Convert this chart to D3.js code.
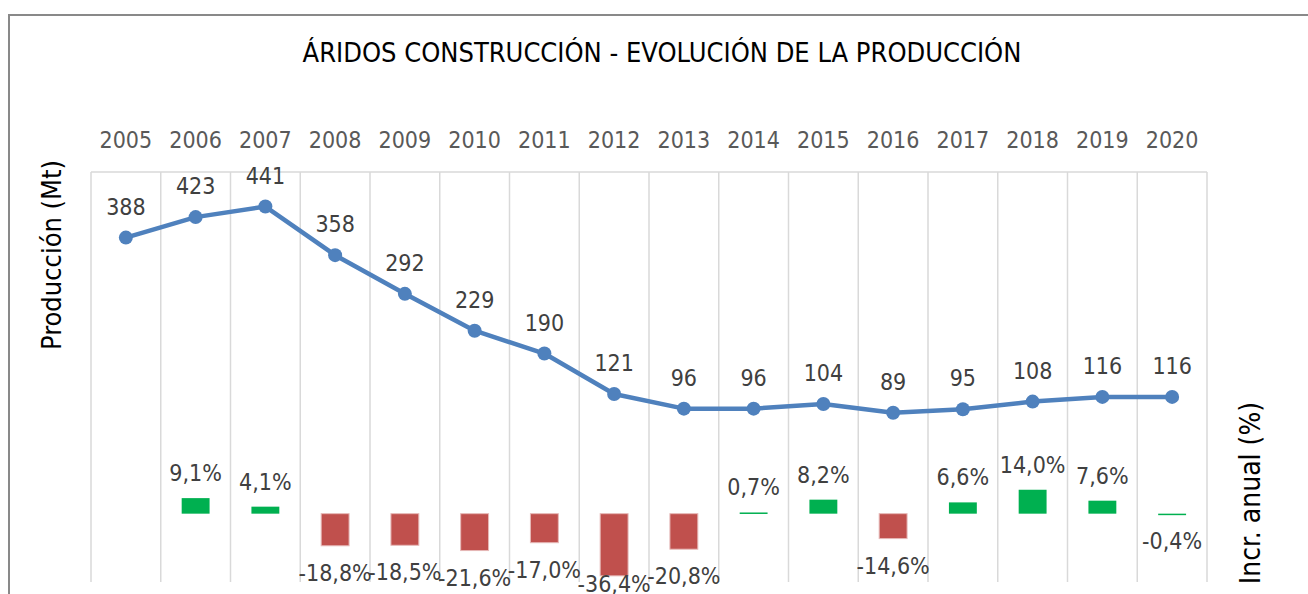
<!DOCTYPE html>
<html><head><meta charset="utf-8">
<script src="https://cdn.jsdelivr.net/npm/d3@7"></script>
<style>
body{margin:0;background:#fff;}
text{font-family:"DejaVu Sans Condensed","DejaVu Sans",sans-serif;font-stretch:condensed;}
</style></head>
<body><svg id="c" width="1308" height="594"></svg>
<script>
const years = ["2005","2006","2007","2008","2009","2010","2011","2012","2013","2014","2015","2016","2017","2018","2019","2020"];
const produccion = [388,423,441,358,292,229,190,121,96,96,104,89,95,108,116,116];
const incremento = [null,9.1,4.1,-18.8,-18.5,-21.6,-17.0,-36.4,-20.8,0.7,8.2,-14.6,6.6,14.0,7.6,-0.4];
const leftDomain = [-200,500];
const rightDomain = [-40,200];

const svg = d3.select("#c");
const L=91,R=1207,T=172,B=582;
const x = d3.scaleBand().domain(years).range([L,R]).padding(0);
const yL = d3.scaleLinear().domain(leftDomain).range([B,T]);
const yR = d3.scaleLinear().domain(rightDomain).range([B,T]);

// chart border
svg.append("rect").attr("x",9).attr("y",15).attr("width",1400).attr("height",700)
  .attr("fill","none").attr("stroke","#898989").attr("stroke-width",2);

// title
svg.append("text").attr("x",662).attr("y",62).attr("text-anchor","middle")
  .attr("font-size",27).attr("fill","#000").text("ÁRIDOS CONSTRUCCIÓN - EVOLUCIÓN DE LA PRODUCCIÓN");

// gridlines
const bounds = years.map(d=>x(d)).concat([R]);
svg.append("g").selectAll("line").data(bounds).join("line")
  .attr("x1",d=>d).attr("x2",d=>d).attr("y1",T).attr("y2",B)
  .attr("stroke","#d9d9d9").attr("stroke-width",1.5);
svg.append("line").attr("x1",L).attr("x2",R).attr("y1",T).attr("y2",T)
  .attr("stroke","#d9d9d9").attr("stroke-width",1.5);

// top category axis
const ax = svg.append("g").attr("transform",`translate(0,${T})`).call(d3.axisTop(x).tickSize(0).tickPadding(24));
ax.select(".domain").remove();
ax.selectAll("text").attr("font-size",23).attr("fill","#595959").attr("font-family",null);

// axis titles
svg.append("text").attr("transform","translate(61,255) rotate(-90)").attr("text-anchor","middle")
  .attr("font-size",27).attr("fill","#000").text("Producción (Mt)");
svg.append("text").attr("transform","translate(1260,493) rotate(-90)").attr("text-anchor","middle")
  .attr("font-size",28).attr("fill","#000").text("Incr. anual (%)");

// bars
const bw = x.bandwidth()*0.4;
const bd = years.map((y,i)=>({y,v:incremento[i]})).filter(d=>d.v!==null);
const pos = d=>Math.round(d.v)>=0;
svg.append("g").selectAll("rect").data(bd).join("rect")
  .attr("x",d=>x(d.y)+x.bandwidth()/2-bw/2).attr("width",bw)
  .attr("y",d=>Math.min(yR(d.v),yR(0))).attr("height",d=>Math.max(Math.abs(yR(d.v)-yR(0)),1.5))
  .attr("fill",d=>pos(d)?"#00B050":"#C0504D")
  .attr("stroke",d=>pos(d)?"none":"#e6b9b8").attr("stroke-width",1);

const fmt = v=>v.toFixed(1).replace(".",",")+"%";
svg.append("g").selectAll("text").data(bd).join("text")
  .attr("x",d=>x(d.y)+x.bandwidth()/2)
  .attr("y",d=>d.v>=0? yR(d.v)-17 : Math.min(yR(d.v)+35, B+10))
  .attr("text-anchor","middle").attr("font-size",23).attr("fill","#404040")
  .text(d=>fmt(d.v));

// line
const pts = years.map((y,i)=>({y,v:produccion[i]}));
svg.append("path").datum(pts)
  .attr("d",d3.line().x(d=>x(d.y)+x.bandwidth()/2).y(d=>yL(d.v)))
  .attr("fill","none").attr("stroke","#4F81BD").attr("stroke-width",4.5).attr("stroke-linejoin","round");
svg.append("g").selectAll("circle").data(pts).join("circle")
  .attr("cx",d=>x(d.y)+x.bandwidth()/2).attr("cy",d=>yL(d.v)).attr("r",7).attr("fill","#4F81BD");
svg.append("g").selectAll("text").data(pts).join("text")
  .attr("x",d=>x(d.y)+x.bandwidth()/2).attr("y",d=>yL(d.v)-23)
  .attr("text-anchor","middle").attr("font-size",23).attr("fill","#404040")
  .text(d=>d.v);
</script></body></html>
